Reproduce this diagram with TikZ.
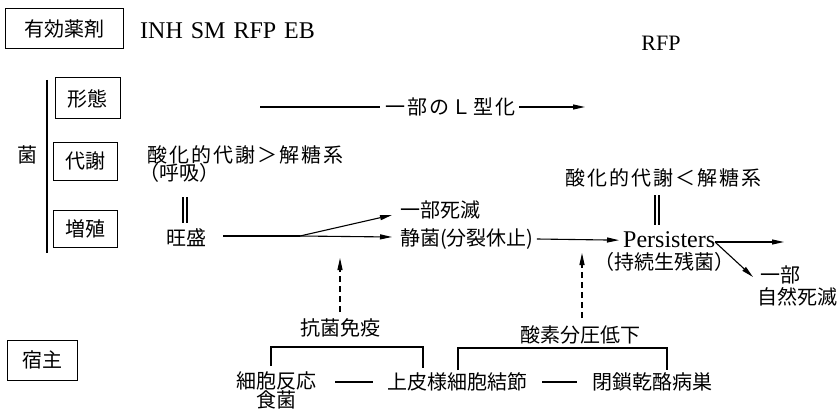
\documentclass[tikz,border=0pt]{standalone}
\usepackage{fontspec}
\setmainfont{Liberation Serif}
\newfontfamily\jp{Noto Sans CJK JP}
\newfontfamily\jpw[LetterSpace=10]{Noto Sans CJK JP}
\usetikzlibrary{arrows.meta,calc}
\begin{document}
\begin{tikzpicture}[x=1pt,y=-1pt,
  jt/.style={font=\jp\fontsize{20}{22}\selectfont, inner sep=0pt},
  jw/.style={font=\jpw\fontsize{20}{22}\selectfont, inner sep=0pt},
  lt/.style={font=\fontsize{24}{26}\selectfont, inner sep=0pt},
  boxn/.style={jt, draw, line width=1pt},
  ln/.style={line width=1.1pt},
  arr/.style={line width=1.1pt, -{Triangle[length=12pt,width=5pt]}},
  darr/.style={arr, dash pattern=on 6pt off 4pt}
]
\useasboundingbox (0,0) rectangle (837,409);

% boxes
\node[boxn, minimum width=118pt, minimum height=40pt] (yk) at (64,28.5) {有効薬剤};
\node[boxn, minimum width=65pt, minimum height=41pt] (kt) at (87.5,98.5) {形態};
\node[boxn, minimum width=64pt, minimum height=38pt] (ts) at (85,161) {代謝};
\node[boxn, minimum width=64pt, minimum height=37pt] (zs) at (85,228.5) {増殖};
\node[boxn, minimum width=70pt, minimum height=40pt] (sk) at (42,360) {宿主};
\node[jt] (kin) at (27,155) {菌};
\coordinate (vt) at (47,80);
\coordinate (vb) at (47,253);
\draw[line width=1.1pt] (vt) -- (vb);

% drugs
\node[lt, anchor=base west] (drugs) at (140,39) {INH\hspace{8pt}SM\hspace{8pt}RFP\hspace{8pt}EB};
\node[font=\fontsize{22}{24}\selectfont, inner sep=0pt, anchor=base] (rfp) at (661,51) {RFP};

% morphology
\coordinate (lstart) at (260,107);
\node[jw, anchor=west] (lform) at (385,107) {一部のＬ型化};
\coordinate (lend) at (585,107);
\draw[ln] (lstart) -- ([xshift=-5pt]lform.west);
\draw[arr] ([xshift=4pt]lform.east) -- (lend);

% metabolism left
\node[jw, anchor=west] (ox1) at (147,155) {酸化的代謝＞解糖系};
\node[jt] (koky) at (179,173) {（呼吸）};
\node[jt] (ousei) at (186,238) {旺盛};
\draw[ln] (183,197) -- (183,223);
\draw[ln] (187,197) -- (187,223);

% proliferation arrows
\node[jt, anchor=west] (shimetsu) at (400,210) {一部死滅};
\node[jt, anchor=west] (seikin) at (400,239) {静菌(分裂休止)};
\coordinate (br) at (300,236);
\draw[ln] (223,236) -- (br);
\draw[arr] (br) -- (392,237);
\draw[arr] (br) -- (392,215);

% persisters
\node[lt, anchor=base west] (pers) at (623,247) {Persisters};
\node[jt] (jizoku) at (664,262) {（持続生残菌）};
\node[jw] (ox2) at (663,178) {酸化的代謝＜解糖系};
\draw[ln] (655,195) -- (655,225);
\draw[ln] (659,195) -- (659,225);
\draw[arr] ([xshift=3pt]seikin.east) -- ([xshift=-4pt,yshift=-1pt]pers.west);
\coordinate (pe) at (715,242);
\draw[arr] (pe) -- (784,242);
\draw[arr] (pe) -- (753,277);
\node[jt, anchor=west] (ichibu) at (760,275) {一部};
\node[jt, anchor=west] (shizen) at (757,297) {自然死滅};

% host
\node[jt] (kokin) at (340,328) {抗菌免疫};
\node[jt] (sanso) at (580,335) {酸素分圧低下};
\draw[darr] (340,312) -- (340,258);
\draw[darr] (582,318) -- (582,253);

\node[jt, align=center, font=\jp\fontsize{20}{19}\selectfont] (saibo) at (276,390) {細胞反応\\食菌};
\node[jt, anchor=west] (johi) at (387,382) {上皮様細胞結節};
\node[jt, anchor=west] (heisa) at (592,382) {閉鎖乾酪病巣};
\draw[ln] (335,382) -- (373,382);
\draw[ln] (542,382) -- (577,382);
\draw[ln] (271,366) -- (271,347) -- (423,347) -- (423,368);
\draw[ln] (458,370) -- (458,348) -- (667,348) -- (667,370);
\end{tikzpicture}
\end{document}
